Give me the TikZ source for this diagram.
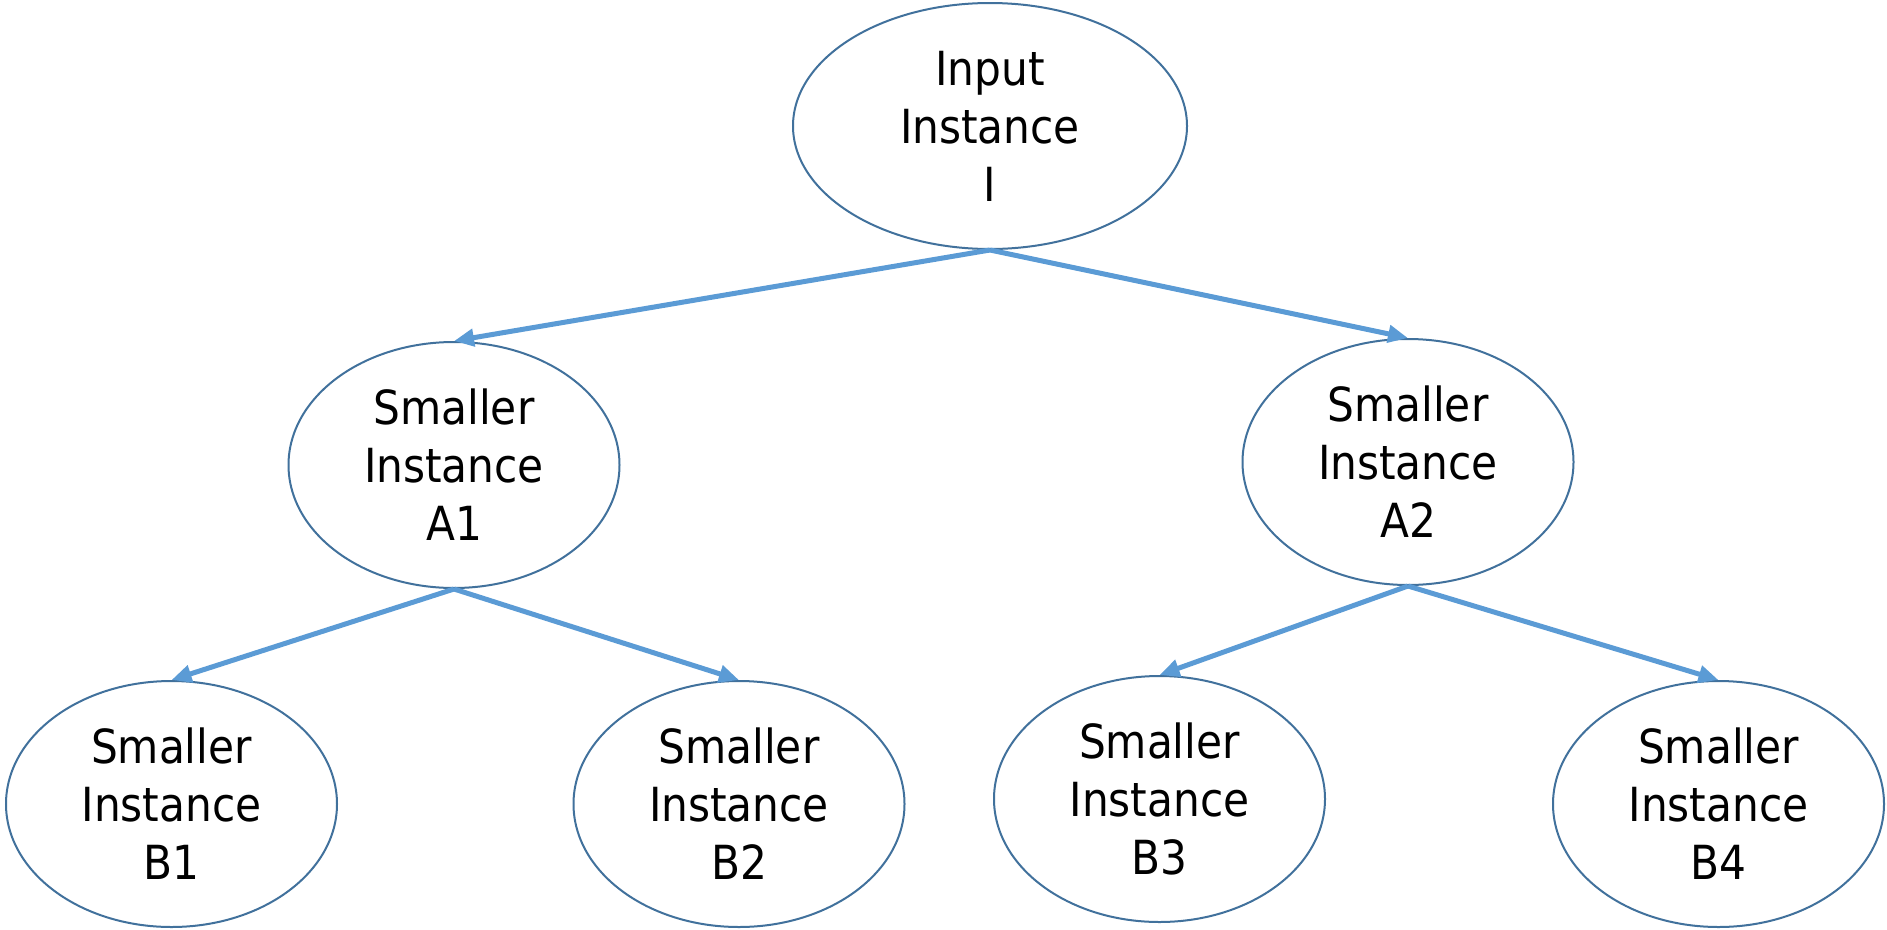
\documentclass[tikz,border=0pt]{standalone}
\usepackage{fontspec}
\setmainfont{DejaVu Sans Condensed}
\usetikzlibrary{shapes.geometric,arrows.meta}
\definecolor{rimblue}{HTML}{41719C}
\definecolor{linkblue}{HTML}{5B9BD5}
\tikzset{
  inst/.style={ellipse, draw=rimblue, line width=2pt, fill=white, inner sep=0pt,
    minimum width=331pt, minimum height=246pt, align=center,
    font=\fontsize{47}{58}\selectfont},
  rootinst/.style={inst, minimum width=394pt},
  link/.style={draw=linkblue, line width=5pt,
    -{Triangle[length=20pt,width=17pt]}}
}
\begin{document}
\begin{tikzpicture}[x=1pt,y=-1pt]
  \useasboundingbox (0,0) rectangle (1887,929);
  % tree of instances
  \node[rootinst] (I)  at (990,126)    {Input\\Instance\\I};
  \node[inst]     (A1) at (454,465)    {Smaller\\Instance\\A1};
  \node[inst]     (A2) at (1408,462)   {Smaller\\Instance\\A2};
  \node[inst]     (B1) at (171.5,804)  {Smaller\\Instance\\B1};
  \node[inst]     (B2) at (739,804)    {Smaller\\Instance\\B2};
  \node[inst]     (B3) at (1159.5,799) {Smaller\\Instance\\B3};
  \node[inst]     (B4) at (1718.5,804) {Smaller\\Instance\\B4};
  % splitting arrows
  \draw[link] (I.south)  -- (A1.north);
  \draw[link] (I.south)  -- (A2.north);
  \draw[link] (A1.south) -- (B1.north);
  \draw[link] (A1.south) -- (B2.north);
  \draw[link] (A2.south) -- (B3.north);
  \draw[link] (A2.south) -- (B4.north);
\end{tikzpicture}
\end{document}
